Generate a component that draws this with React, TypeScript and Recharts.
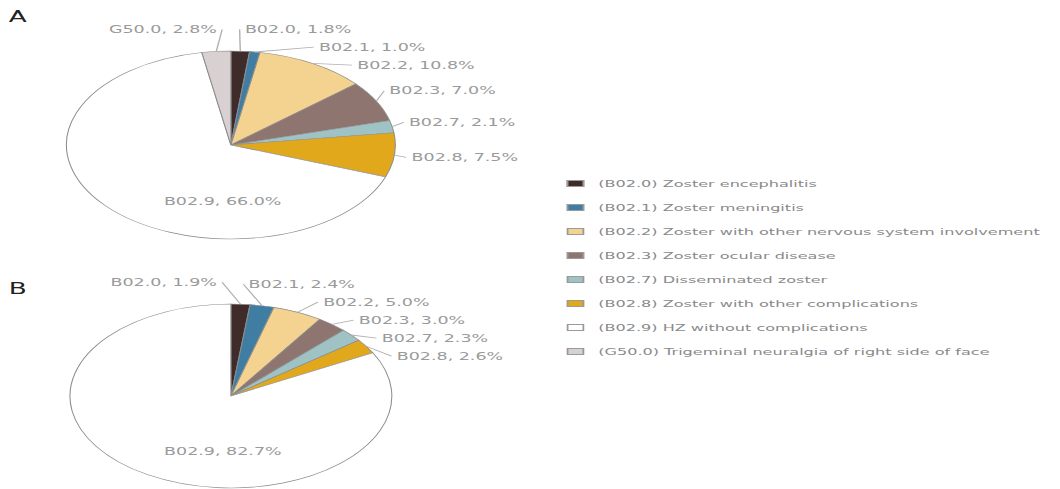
import { PieChart, Pie, Cell } from "recharts";

// ICD-10 codes shown on both pies, with the legend wording
const codes = ["B02.0", "B02.1", "B02.2", "B02.3", "B02.7", "B02.8", "B02.9", "G50.0"];
const descriptions = [
  "(B02.0) Zoster encephalitis",
  "(B02.1) Zoster meningitis",
  "(B02.2) Zoster with other nervous system involvement",
  "(B02.3) Zoster ocular disease",
  "(B02.7) Disseminated zoster",
  "(B02.8) Zoster with other complications",
  "(B02.9) HZ without complications",
  "(G50.0) Trigeminal neuralgia of right side of face",
];
const colors = ["#3f2b2a", "#3f7ea2", "#f3d38f", "#8f7570", "#9fc3c5", "#e2a81c", "#ffffff", "#d9d1d1"];

// panel A shares (%)
const sharesA = [1.8, 1.0, 10.8, 7.0, 2.1, 7.5, 66.0, 2.8];
// panel B shares (%), no G50.0
const sharesB = [1.9, 2.4, 5.0, 3.0, 2.3, 2.6, 82.7];

const dataA = sharesA.map((v, i) => ({ name: codes[i], value: v, color: colors[i] }));
const dataB = sharesB.map((v, i) => ({ name: codes[i], value: v, color: colors[i] }));

const STRETCH = 1060 / 606;
const FONT = "'DejaVu Sans', Verdana, sans-serif";
const LABEL_GAP = 18;

type Spot = { x: number; y: number; side: number; inside: boolean };

// spread the outside labels so that neighbours do not overlap
function layoutLabels(values: number[], r: number): Spot[] {
  const total = values.reduce((a, b) => a + b, 0);
  const R = r + 22;
  let cum = 0;
  const spots: Spot[] = values.map((v) => {
    const t = ((cum + v / 2) / total) * Math.PI * 2;
    cum += v;
    const ux = Math.sin(t);
    const uy = -Math.cos(t);
    return { x: ux, y: uy * R, side: ux >= 0 ? 1 : -1, inside: v / total > 0.4 };
  });
  const outside = spots.filter((s) => !s.inside);
  const left = outside.filter((s) => s.side < 0);
  const right = outside.filter((s) => s.side > 0);
  if (left.length === 0 && right.length > 0 && Math.abs(right[0].x) < 0.1) {
    right[0].side = -1;
  }
  for (const side of [1, -1]) {
    const list = outside.filter((s) => s.side === side).sort((a, b) => a.y - b.y);
    for (let i = 1; i < list.length; i++) {
      list[i].y = Math.max(list[i].y, list[i - 1].y + LABEL_GAP);
    }
  }
  spots.forEach((s) => {
    if (s.inside) {
      s.x = -0.05 * r;
      s.y = 0.6 * r;
    } else {
      s.x = s.side * Math.max(Math.sqrt(Math.max(0, R * R - s.y * s.y)) - 12, 8);
    }
  });
  return spots;
}

function makeLabel(values: number[], r: number) {
  const spots = layoutLabels(values, r);
  return (props: any) => {
    const { cx, cy, midAngle, outerRadius, index, name, value } = props;
    const s = spots[index];
    const text = `${name}, ${Number(value).toFixed(1)}%`;
    if (s.inside) {
      return (
        <text x={cx + s.x} y={cy + s.y} textAnchor="middle" dominantBaseline="central"
          fontSize={10} fill="#9a9a9a" fontFamily={FONT}>
          {text}
        </text>
      );
    }
    const rad = (-midAngle * Math.PI) / 180;
    const ex = cx + outerRadius * Math.cos(rad);
    const ey = cy + outerRadius * Math.sin(rad);
    const lx = cx + s.x;
    const ly = cy + s.y;
    return (
      <g>
        <polyline points={`${ex},${ey} ${lx - s.side * 3},${ly}`} fill="none" stroke="#b0b0b0" strokeWidth={0.8} />
        <text x={lx} y={ly} textAnchor={s.side > 0 ? "start" : "end"} dominantBaseline="central"
          fontSize={10} fill="#9a9a9a" fontFamily={FONT}>
          {text}
        </text>
      </g>
    );
  };
}

function LegendBox() {
  return (
    <div style={{ position: "absolute", left: 324, top: 171, fontFamily: FONT, fontSize: 9.2, color: "#8a8a8a" }}>
      {codes.map((c, i) => (
        <div key={c} style={{ display: "flex", alignItems: "center", height: 24.1 }}>
          <span style={{
            display: "inline-block", width: 10, height: 7, marginRight: 8,
            background: colors[i], border: "1px solid #9a9a9a", boxSizing: "border-box",
          }} />
          <span style={{ whiteSpace: "nowrap" }}>{descriptions[i]}</span>
        </div>
      ))}
    </div>
  );
}

export default function App() {
  return (
    <div style={{ position: "absolute", left: 0, top: 0, width: 1060, height: 489, overflow: "hidden", background: "#fff" }}>
      <div style={{ position: "absolute", left: 0, top: 0, width: 606, height: 489, transform: `scaleX(${STRETCH})`, transformOrigin: "0 0" }}>
        <div style={{ position: "absolute", left: 5, top: 8, fontFamily: FONT, fontSize: 15, color: "#222" }}>A</div>
        <div style={{ position: "absolute", left: 5, top: 280, fontFamily: FONT, fontSize: 15, color: "#222" }}>B</div>
        <div style={{ position: "absolute", left: 0, top: 0 }}>
          <PieChart width={320} height={489} margin={{ top: 0, right: 0, bottom: 0, left: 0 }}>
            <Pie data={dataA} dataKey="value" nameKey="name" cx={132} cy={145} outerRadius={94}
              startAngle={90} endAngle={-270} stroke="#8c8c8c" strokeWidth={0.6}
              label={makeLabel(sharesA, 94)} labelLine={false} isAnimationActive={false}>
              {dataA.map((d) => <Cell key={d.name} fill={d.color} />)}
            </Pie>
            <Pie data={dataB} dataKey="value" nameKey="name" cx={132} cy={396} outerRadius={92}
              startAngle={90} endAngle={-270} stroke="#8c8c8c" strokeWidth={0.6}
              label={makeLabel(sharesB, 92)} labelLine={false} isAnimationActive={false}>
              {dataB.map((d) => <Cell key={d.name} fill={d.color} />)}
            </Pie>
          </PieChart>
        </div>
        <LegendBox />
      </div>
    </div>
  );
}
